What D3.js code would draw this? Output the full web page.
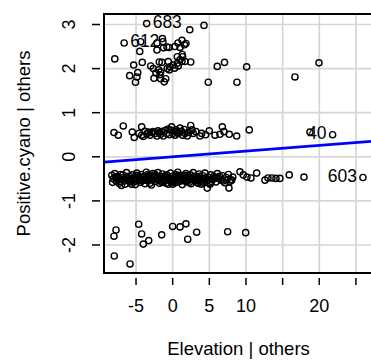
<!DOCTYPE html>
<html>
<head>
<meta charset="utf-8">
<script src="https://cdn.jsdelivr.net/npm/d3@7"></script>
<style>
  html, body { margin: 0; padding: 0; background: #fff; }
  svg { display: block; font-family: "Liberation Sans", Arial, Helvetica, sans-serif; }
</style>
</head>
<body>
<svg id="chart" width="371" height="364"></svg>
<script>
// Added-variable plot: Positive.cyano | others  vs  Elevation | others
// Residual pairs [elevation | others, positive.cyano | others]

// upper cluster of residuals
const clusterTop = [
  [-3.55, 3.02], [4.27, 2.98], [2.33, 2.88], [-6.62, 2.58], [-4.36, 2.61],
  [-7.90, 2.22], [-4.49, 2.39], [-2.14, 2.58], [-1.32, 2.61], [-0.78, 2.49],
  [-2.14, 2.42], [-1.25, 2.47], [-0.50, 2.48], [0.72, 2.58], [1.27, 2.64],
  [1.81, 2.57], [0.31, 2.50], [1.00, 2.48], [1.61, 2.54], [-5.32, 2.08],
  [-4.15, 2.14], [-4.77, 1.91], [-5.87, 1.84], [-4.87, 1.81], [-5.07, 1.69],
  [-3.00, 2.06], [-2.65, 2.00], [-1.83, 2.15], [-1.46, 2.14], [-1.91, 1.97],
  [-2.28, 1.90], [-2.55, 1.78], [-1.64, 1.77], [-1.15, 1.70], [-1.73, 1.86],
  [-0.60, 2.16], [-0.37, 2.04], [0.08, 2.08], [0.63, 2.12], [1.00, 2.20],
  [1.36, 2.27], [0.63, 2.27], [1.27, 2.16], [1.68, 2.16], [2.46, 2.15],
  [0.76, 2.06], [0.27, 2.01], [-0.46, 1.97], [6.08, 2.05], [7.07, 2.14],
  [4.86, 1.69], [8.77, 1.69], [10.09, 2.04], [16.68, 1.81], [19.96, 2.13],
  [-0.95, 1.77], [1.31, 2.32], [-0.74, 2.00], [-1.64, 1.92], [-1.40, 2.68]
];

// residuals just above zero
const bandHigh = [
  [-8.01, 0.55], [-7.42, 0.49], [-6.74, 0.70], [-5.51, 0.56], [-5.24, 0.44],
  [-4.23, 0.68], [-4.23, 0.49], [-4.01, 0.46], [-3.51, 0.52], [-3.10, 0.49],
  [-2.65, 0.57], [-2.41, 0.53], [-2.14, 0.47], [-1.83, 0.55], [-1.50, 0.57],
  [-1.28, 0.47], [-0.82, 0.53], [-0.64, 0.63], [-0.37, 0.61], [-0.14, 0.68],
  [0.00, 0.53], [0.31, 0.49], [0.45, 0.61], [0.76, 0.53], [1.00, 0.65],
  [1.36, 0.49], [1.68, 0.53], [1.99, 0.47], [2.46, 0.71], [2.63, 0.61],
  [2.81, 0.53], [3.18, 0.57], [3.72, 0.47], [3.96, 0.53], [4.99, 0.59],
  [5.77, 0.49], [6.45, 0.51], [6.77, 0.68], [7.00, 0.57], [7.72, 0.51],
  [8.73, 0.47], [10.45, 0.61], [18.73, 0.56], [21.82, 0.50],
  [-3.80, 0.58], [-1.00, 0.60], [0.20, 0.58], [1.20, 0.58], [-2.90, 0.55], [4.50, 0.50],
  [-3.30, 0.56], [-2.00, 0.59], [-0.45, 0.50], [0.60, 0.56], [1.55, 0.62], [2.20, 0.55],
  [-4.60, 0.53], [-1.65, 0.51]
];

// residuals just below zero
const bandLow = [
  [-8.3, -0.42], [-8.1, -0.50], [-7.9, -0.38], [-7.7, -0.55], [-7.5, -0.45],
  [-7.3, -0.60], [-7.1, -0.40], [-6.9, -0.52], [-6.7, -0.47], [-6.5, -0.62],
  [-6.3, -0.36], [-6.1, -0.50], [-5.9, -0.44], [-5.7, -0.57], [-5.5, -0.41],
  [-5.3, -0.49], [-5.1, -0.63], [-4.9, -0.37], [-4.8, -0.53], [-4.6, -0.46],
  [-4.4, -0.58], [-4.3, -0.40], [-4.1, -0.51], [-3.9, -0.44], [-3.8, -0.61],
  [-3.6, -0.35], [-3.5, -0.48], [-3.3, -0.55], [-3.2, -0.42], [-3.0, -0.50],
  [-2.9, -0.64], [-2.7, -0.38], [-2.6, -0.47], [-2.4, -0.56], [-2.3, -0.43],
  [-2.1, -0.52], [-2.0, -0.36], [-1.8, -0.60], [-1.7, -0.45], [-1.5, -0.50],
  [-1.4, -0.39], [-1.2, -0.57], [-1.1, -0.46], [-0.9, -0.53], [-0.8, -0.41],
  [-0.6, -0.62], [-0.5, -0.48], [-0.3, -0.37], [-0.2, -0.55], [0.0, -0.44],
  [0.1, -0.51], [0.3, -0.59], [0.4, -0.40], [0.6, -0.49], [0.7, -0.35],
  [0.9, -0.56], [1.0, -0.45], [1.2, -0.52], [1.3, -0.63], [1.5, -0.42],
  [1.6, -0.48], [1.8, -0.38], [1.9, -0.57], [2.1, -0.46], [2.2, -0.53],
  [2.4, -0.41], [2.5, -0.61], [2.7, -0.49], [2.8, -0.36], [3.0, -0.54],
  [3.1, -0.44], [3.3, -0.58], [3.4, -0.47], [3.6, -0.39], [3.8, -0.52],
  [3.9, -0.62], [4.1, -0.43], [4.3, -0.50], [4.4, -0.37], [4.6, -0.55],
  [4.8, -0.46], [5.0, -0.60], [5.2, -0.41], [5.4, -0.51], [5.6, -0.45],
  [5.9, -0.57], [6.1, -0.38], [6.3, -0.49], [6.6, -0.53], [6.8, -0.43],
  [7.1, -0.59], [7.3, -0.47], [7.6, -0.40], [7.9, -0.52], [8.2, -0.46],
  [-7.6, -0.48], [-6.8, -0.41], [-6.0, -0.55], [-5.4, -0.52], [-4.7, -0.43],
  [-4.0, -0.47], [-3.4, -0.40], [-2.8, -0.52], [-2.2, -0.48], [-1.6, -0.55],
  [-1.0, -0.43], [-0.4, -0.51], [0.2, -0.47], [0.8, -0.42], [1.4, -0.54],
  [2.0, -0.43], [2.6, -0.51], [3.2, -0.49], [3.7, -0.44], [4.5, -0.48],
  [5.3, -0.56], [6.0, -0.47], [-7.0, -0.65], [-5.0, -0.42], [-3.1, -0.60],
  [-1.3, -0.49], [0.5, -0.58], [2.3, -0.58], [4.0, -0.55], [-7.19, -0.56],
  [5.09, -0.62], [7.82, -0.56], [4.72, -0.71], [7.68, -0.71],
  [-8.2, -0.58], [-7.8, -0.46], [-7.2, -0.51], [-6.6, -0.55], [-6.2, -0.45],
  [-5.8, -0.51], [-5.2, -0.56], [-4.5, -0.50], [-3.7, -0.53], [-3.3, -0.45],
  [-2.5, -0.44], [-1.9, -0.50], [-1.5, -0.58], [-0.7, -0.47], [-0.1, -0.58],
  [0.5, -0.45], [1.1, -0.50], [1.7, -0.54], [2.4, -0.48], [2.9, -0.45],
  [3.5, -0.54], [4.2, -0.58], [4.9, -0.52], [5.7, -0.49], [6.4, -0.44],
  [6.9, -0.55], [7.4, -0.52], [-6.4, -0.48], [-4.2, -0.55], [-2.4, -0.40],
  [-0.9, -0.60], [1.7, -0.43], [3.5, -0.60], [-5.6, -0.62], [0.0, -0.62],
  [8.05, -0.53], [9.18, -0.34], [9.63, -0.41], [10.13, -0.46], [10.68, -0.48],
  [11.46, -0.37], [12.59, -0.53], [13.00, -0.48], [13.54, -0.48], [14.09, -0.49],
  [14.63, -0.49], [15.90, -0.41], [17.91, -0.46], [25.96, -0.47]
];

// lower cluster of residuals
const clusterBottom = [
  [-7.73, -1.66], [-8.01, -1.80], [-4.64, -1.53], [-4.23, -1.75], [-4.01, -1.98],
  [-3.27, -1.90], [-1.50, -1.77], [0.00, -1.58], [1.00, -1.59], [1.81, -1.52],
  [2.05, -1.87], [3.27, -1.71], [7.50, -1.70], [9.96, -1.72], [-7.97, -2.25],
  [-5.82, -2.43]
];

// identified observations
const labelIds = ["683", "612", "40", "603"];
const labelPoints = [[-3.55, 3.02], [-6.62, 2.58], [21.82, 0.50], [25.96, -0.47]];

// least-squares fit through the residuals
const fitIntercept = 0.0;
const fitSlope = 0.013;

// axes
const xTicks = [-5, 0, 5, 10, 15, 20, 25];
const xTickLabels = ["-5", "0", "5", "10", "", "20", ""];
const yTicks = [-2, -1, 0, 1, 2, 3];
const yTickLabels = ["-2", "-1", "0", "1", "2", "3"];
const xTitle = "Elevation | others";
const yTitle = "Positive.cyano | others";

const svg = d3.select("#chart");
const plotLeft = 104, plotRight = 373, plotTop = 14, plotBottom = 273;

const x = d3.scaleLinear().domain([-9.37, 27.33]).range([plotLeft, plotRight]);
const y = d3.scaleLinear().domain([-2.635, 3.238]).range([plotBottom, plotTop]);

svg.append("defs").append("clipPath").attr("id", "plotArea")
  .append("rect").attr("x", plotLeft).attr("y", plotTop)
  .attr("width", plotRight - plotLeft).attr("height", plotBottom - plotTop);

// grid
const grid = svg.append("g");
grid.selectAll("line.v").data(xTicks).join("line")
  .attr("class", "v")
  .attr("x1", d => x(d)).attr("x2", d => x(d))
  .attr("y1", plotTop).attr("y2", plotBottom)
  .attr("stroke", "#d6d6d6").attr("stroke-width", 1.7);
grid.selectAll("line.h").data(yTicks).join("line")
  .attr("class", "h")
  .attr("x1", plotLeft).attr("x2", plotRight)
  .attr("y1", d => y(d)).attr("y2", d => y(d))
  .attr("stroke", "#d6d6d6").attr("stroke-width", 1.7);

// points
const allPoints = clusterTop.concat(bandHigh, bandLow, clusterBottom);
svg.append("g").attr("clip-path", "url(#plotArea)")
  .selectAll("circle").data(allPoints).join("circle")
  .attr("cx", d => x(d[0])).attr("cy", d => y(d[1]))
  .attr("r", 3.1)
  .attr("fill", "none").attr("stroke", "#000").attr("stroke-width", 1.4);

// fitted line
const xd = x.domain();
svg.append("line").attr("clip-path", "url(#plotArea)")
  .attr("x1", x(xd[0])).attr("y1", y(fitIntercept + fitSlope * xd[0]))
  .attr("x2", x(xd[1])).attr("y2", y(fitIntercept + fitSlope * xd[1]))
  .attr("stroke", "#0000ff").attr("stroke-width", 2.8);

// point labels
const xMid = (xd[0] + xd[1]) / 2;
svg.append("g").selectAll("text").data(labelPoints).join("text")
  .attr("x", d => x(d[0]) + (d[0] < xMid ? 6 : -6))
  .attr("y", d => y(d[1]) - 2)
  .attr("text-anchor", d => d[0] < xMid ? "start" : "end")
  .attr("dominant-baseline", "central")
  .attr("font-size", 17.5)
  .attr("fill", "#000")
  .text((d, i) => labelIds[i]);

// frame
svg.append("rect").attr("x", plotLeft).attr("y", plotTop)
  .attr("width", plotRight - plotLeft).attr("height", plotBottom - plotTop)
  .attr("fill", "none").attr("stroke", "#000").attr("stroke-width", 2);

// x axis ticks and labels
const xAxis = svg.append("g");
xAxis.selectAll("line").data(xTicks).join("line")
  .attr("x1", d => x(d)).attr("x2", d => x(d))
  .attr("y1", 278).attr("y2", 285)
  .attr("stroke", "#000").attr("stroke-width", 1.5);
xAxis.selectAll("text").data(xTicks).join("text")
  .attr("x", d => x(d)).attr("y", 306)
  .attr("text-anchor", "middle").attr("dominant-baseline", "central")
  .attr("font-size", 18)
  .text((d, i) => xTickLabels[i]);

// y axis ticks and labels
const yAxis = svg.append("g");
yAxis.selectAll("line").data(yTicks).join("line")
  .attr("x1", 92).attr("x2", 100)
  .attr("y1", d => y(d)).attr("y2", d => y(d))
  .attr("stroke", "#000").attr("stroke-width", 1.5);
yAxis.selectAll("text").data(yTicks).join("text")
  .attr("transform", d => `translate(68.5,${y(d)}) rotate(-90)`)
  .attr("text-anchor", "middle").attr("dominant-baseline", "central")
  .attr("font-size", 18)
  .text((d, i) => yTickLabels[i]);

// titles
svg.append("text")
  .attr("x", (plotLeft + plotRight) / 2).attr("y", 348)
  .attr("text-anchor", "middle").attr("dominant-baseline", "central")
  .attr("font-size", 18.5)
  .text(xTitle);
svg.append("text")
  .attr("transform", `translate(23,${(plotTop + plotBottom) / 2}) rotate(-90)`)
  .attr("text-anchor", "middle").attr("dominant-baseline", "central")
  .attr("font-size", 18.5)
  .text(yTitle);
</script>
</body>
</html>
